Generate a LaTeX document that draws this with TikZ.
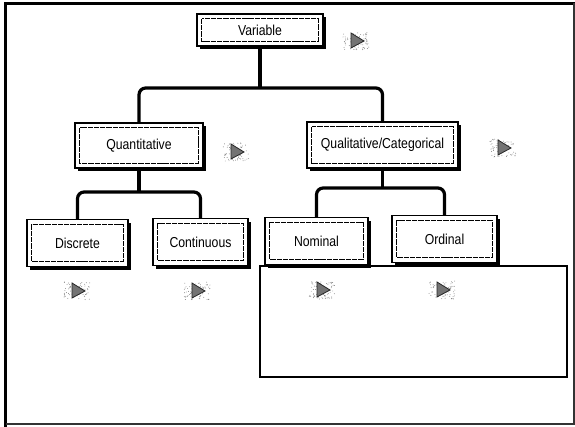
\documentclass[tikz,border=0pt]{standalone}
\usepackage{fontspec}
\setmainfont{Liberation Sans}[FakeStretch=0.85]
\usetikzlibrary{shadows}

\tikzset{
  % framed label box: solid outline, thin inner rule, solid black shadow
  catbox/.style={draw=black, line width=0.9pt, fill=white, inner sep=0pt,
    font=\fontsize{10.8}{12}\selectfont,
    drop shadow={shadow xshift=2.4pt, shadow yshift=-2.4pt, fill=black, opacity=1},
    path picture={\draw[line width=0.5pt, dash pattern=on 4pt off 0.7pt]
      ([shift={(3.6pt,-3.6pt)}]path picture bounding box.north west) rectangle
      ([shift={(-3.6pt,3.6pt)}]path picture bounding box.south east);}},
  link/.style={line width=2.4pt, rounded corners=5pt},
  % small grey "play" pointer on a stippled patch
  pics/pointer/.style={code={
    \pgfmathsetseed{#1}
    \foreach \k in {1,...,70}
      \fill[black!50] ({rnd*26-13},{rnd*18-9}) circle (0.35pt);
    \filldraw[fill=black!55, draw=black!85, line width=0.6pt]
      (-5,-8) -- (8,0) -- (-5,7) -- cycle;
  }},
}

\begin{document}
\begin{tikzpicture}[x=0.75pt, y=-0.75pt]
\useasboundingbox (0,0) rectangle (575,427);

% page frame
\draw[line width=2pt] (5.5,427) -- (5.5,3.5) -- (575,3.5);
\draw[line width=1.2pt, black!80] (573.8,3.5) -- (573.8,424) -- (5.5,424);

% lower-right panel
\node (panel) [draw=black, line width=0.9pt, minimum width=230.25pt,
  minimum height=83.25pt, inner sep=0pt] at (413.5,321.5) {};

% boxes
\node (var)   [catbox, minimum width=94.5pt,  minimum height=24pt] at (260,30)   {Variable};
\node (quant) [catbox, minimum width=96pt,    minimum height=33.75pt] at (139,145.5) {Quantitative};
\node (qual)  [catbox, minimum width=113.25pt,minimum height=34.5pt] at (382.5,145) {Qualitative/Categorical};
\node (disc)  [catbox, minimum width=75.75pt, minimum height=35pt] at (77.5,243)  {Discrete};
\node (cont)  [catbox, minimum width=71.25pt, minimum height=35pt] at (200.5,242) {Continuous};
\node (nom)   [catbox, minimum width=77.25pt, minimum height=35pt] at (316.5,241) {Nominal};
\node (ord)   [catbox, minimum width=78.75pt, minimum height=35pt] at (444.5,239) {Ordinal};

% connector levels
\coordinate (lvl1) at (0,88);
\coordinate (lvl2) at (0,192);
\coordinate (lvl3) at (0,188);

\draw[link] (var.south) -- (var.south |- lvl1);
\draw[link] (quant.north) |- (var.south |- lvl1) -| (qual.north);

\draw[link] (quant.south) -- (quant.south |- lvl2);
\draw[link] (disc.north) |- (quant.south |- lvl2) -| (cont.north);

\draw[link] (qual.south) -- (qual.south |- lvl3);
\draw[link] (nom.north) |- (qual.south |- lvl3) -| (ord.north);

% pointers
\pic at (356,41)  {pointer=3};
\pic at (236,152) {pointer=5};
\pic at (503,148) {pointer=7};
\pic at (77,291)  {pointer=11};
\pic at (197,291) {pointer=13};
\pic at (322,290) {pointer=17};
\pic at (442,290) {pointer=19};
\end{tikzpicture}
\end{document}
